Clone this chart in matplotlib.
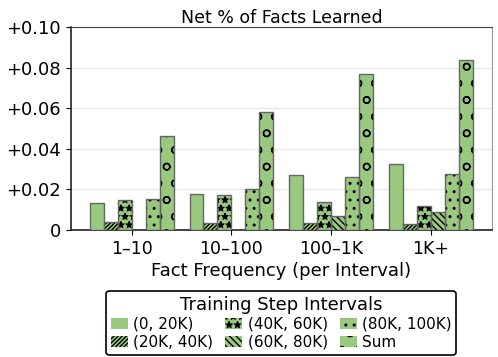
import numpy as np
import matplotlib.pyplot as plt

# Net fraction of facts learned per training-step interval
frequencies = ["1\u201310", "10\u2013100", "100\u20131K", "1K+"]
intervals = ["(0, 20K)", "(20K, 40K)", "(40K, 60K)", "(60K, 80K)", "(80K, 100K)", "Sum"]
hatches = ["", "////////", "**", "\\\\\\\\\\", "..", "o"]

step_0_20k = [0.0135, 0.0177, 0.0269, 0.0325]
step_20_40k = [0.0041, 0.0033, 0.0033, 0.0028]
step_40_60k = [0.0148, 0.0174, 0.0136, 0.0120]
step_60_80k = [0.0, 0.0, 0.0067, 0.0087]
step_80_100k = [0.0154, 0.0200, 0.0259, 0.0277]
step_sum = [0.0461, 0.0580, 0.0768, 0.0836]

series = [step_0_20k, step_20_40k, step_40_60k, step_60_80k, step_80_100k, step_sum]

fill = '#98c97f'
edge = '#666666'

fig = plt.figure(figsize=(4.98, 3.57), dpi=100)
ax = fig.add_axes([0.142, 0.356, 0.846, 0.568])

x = np.arange(len(frequencies))
width = 0.14
handles = []
for i, (vals, label, h) in enumerate(zip(series, intervals, hatches)):
    pos = x + (i - 2.5) * width
    # black hatch layer, then grey outline on top
    b = ax.bar(pos, vals, width, label=label, facecolor=fill,
               edgecolor='black', linewidth=0, hatch=h, zorder=3)
    ax.bar(pos, vals, width, facecolor='none', edgecolor=edge,
           linewidth=1.0, zorder=4)
    handles.append(b)

ax.set_xlim(-0.61, 3.61)
ax.set_ylim(0, 0.10)
ax.set_xticks(x)
ax.set_xticklabels(frequencies, fontsize=12.5)
yt = [0, 0.02, 0.04, 0.06, 0.08, 0.10]
ax.set_yticks(yt)
ax.set_yticklabels(["0"] + [f"+{v:.2f}" for v in yt[1:]], fontsize=13)
ax.yaxis.grid(True, color='#e8e8e8', linewidth=1.0, zorder=0)
ax.set_axisbelow(True)

for s in ['left', 'bottom']:
    ax.spines[s].set_color('#222222')
    ax.spines[s].set_linewidth(1.2)
ax.spines['top'].set_color('#444444')
ax.spines['right'].set_color('#999999')

ax.set_title("Net % of Facts Learned", fontsize=12.5, pad=3)
ax.set_xlabel("Fact Frequency (per Interval)", fontsize=13, labelpad=3)

leg = ax.legend(handles=handles, title="Training Step Intervals", ncol=3,
                loc='upper center', bbox_to_anchor=(0.5, -0.265), fontsize=11,
                title_fontsize=13, frameon=True, fancybox=True, edgecolor='black',
                handlelength=1.1, handletextpad=0.35, columnspacing=0.8,
                labelspacing=0.2, borderpad=0.3)
leg.get_frame().set_linewidth(1.2)
leg.get_frame().set_alpha(1)

fig.savefig("out.png", dpi=100)
